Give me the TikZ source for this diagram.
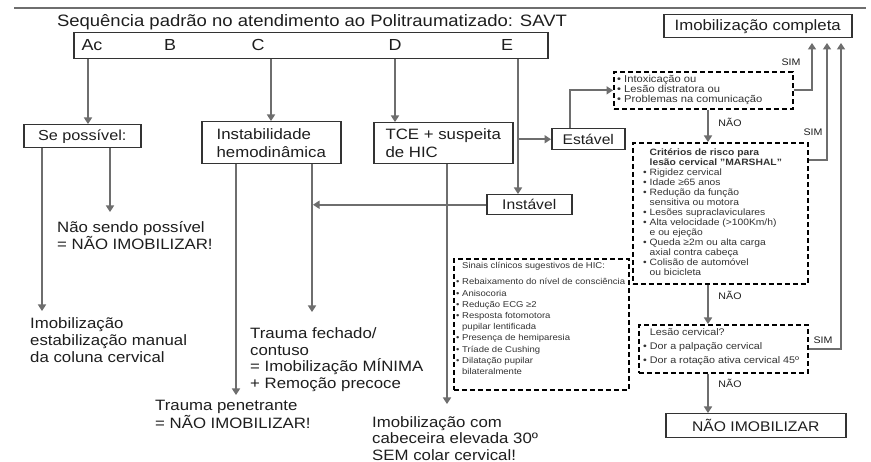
\documentclass[tikz,border=0pt]{standalone}
\usepackage{fontspec}
\setmainfont{Liberation Sans}[FakeStretch=1.12]
\usetikzlibrary{arrows.meta}
\definecolor{arrgray}{HTML}{6E6E6E}
\definecolor{boxgray}{HTML}{333333}
\definecolor{txt}{HTML}{1E1E1E}
\tikzset{
  solidbox/.style={draw=boxgray, line width=1.5pt, fill=white, inner sep=0pt, anchor=north west, text=txt},
  dashbox/.style={draw=black, line width=1.7pt, dash pattern=on 5pt off 3pt, inner sep=0pt, anchor=north west},
  conn/.style={draw=arrgray, line width=2.2pt},
  arr/.style={conn, -{Triangle[width=8pt,length=6.5pt]}},
  lbl/.style={font=\fontsize{9.5}{11}\selectfont, text=txt, inner sep=0pt},
  bodytext/.style={font=\fontsize{15}{16.5}\selectfont, align=left, inner sep=0pt, anchor=west, text=txt},
  letter/.style={font=\fontsize{16}{18}\selectfont, inner sep=0pt, text=txt},
  boxtext/.style={font=\fontsize{15}{18}\selectfont, align=left},
  smalltext/.style={align=left, inner sep=0pt, anchor=west, text=black!80}
}
\newcommand{\bl}{\textbullet\ }
\newcommand{\ind}{\phantom{\textbullet\ }}
\begin{document}
\begin{tikzpicture}[x=1pt, y=-1pt]
\useasboundingbox (0,0) rectangle (871,462);
\fill[white] (0,0) rectangle (871,462);

% top rule
\coordinate (r1) at (14,8);
\coordinate (r2) at (866,8);
\draw[draw=arrgray, line width=1.2pt] (r1) -- (r2);

% title
\node[font=\fontsize{16.5}{18}\selectfont, text=txt, inner sep=0pt] (title) at (312,22)
  {Sequência padrão no atendimento ao Politraumatizado: SAVT};

% ABCDE box
\node[solidbox, minimum width=474pt, minimum height=26pt] (abcde) at (73,32) {};
\node[letter] (lA) at (92,45) {Ac};
\node[letter] (lB) at (170,45) {B};
\node[letter] (lC) at (258,45) {C};
\node[letter] (lD) at (395,45) {D};
\node[letter] (lE) at (507,45) {E};

% solid boxes
\node[solidbox, minimum width=117pt, minimum height=23pt, font=\fontsize{14.5}{17}\selectfont] (sepos) at (23,124) {Se possível:};
\node[solidbox, boxtext, minimum width=139pt, minimum height=42pt] (instab) at (201,121) {Instabilidade\\hemodinâmica};
\node[solidbox, boxtext, minimum width=139pt, minimum height=41pt] (tce) at (373,122) {TCE + suspeita\\de HIC};
\node[solidbox, minimum width=73pt, minimum height=21pt, font=\fontsize{14}{16}\selectfont] (estavel) at (551,128) {Estável};
\node[solidbox, minimum width=85pt, minimum height=20pt, font=\fontsize{14}{16}\selectfont] (instavel) at (486,194) {Instável};
\node[solidbox, minimum width=188pt, minimum height=23pt, font=\fontsize{15}{17}\selectfont] (imobc) at (663,14) {Imobilização completa};
\node[solidbox, minimum width=180pt, minimum height=24pt, font=\fontsize{14}{16}\selectfont] (naoimob) at (665,413) {NÃO IMOBILIZAR};

% dashed boxes
\node[dashbox, minimum width=179pt, minimum height=37pt] (dash1) at (613,71) {};
\node[dashbox, minimum width=175pt, minimum height=141pt] (marshal) at (632,142) {};
\node[dashbox, minimum width=169pt, minimum height=48pt] (lesao) at (638,324) {};
\node[dashbox, minimum width=175pt, minimum height=131pt] (sinais) at (453,258) {};

% dashed box contents
\node[smalltext, font=\fontsize{10}{10}\selectfont] (t1) at (617,89.5)
  {\bl Intoxicação ou\\ \bl Lesão distratora ou\\ \bl Problemas na comunicação};
\node[smalltext, font=\fontsize{9.2}{10}\selectfont] (t2) at (643,212)
  {\ind\textbf{Critérios de risco para}\\
   \ind\textbf{lesão cervical "MARSHAL"}\\
   \bl Rigidez cervical\\
   \bl Idade ≥65 anos\\
   \bl Redução da função\\
   \ind sensitiva ou motora\\
   \bl Lesões supraclaviculares\\
   \bl Alta velocidade (>100Km/h)\\
   \ind e ou ejeção\\
   \bl Queda ≥2m ou alta carga\\
   \ind axial contra cabeça\\
   \bl Colisão de automóvel\\
   \ind ou bicicleta};
\node[smalltext, font=\fontsize{9.6}{14}\selectfont] (t3) at (643,347)
  {\ind Lesão cervical?\\ \bl Dor a palpação cervical\\ \bl Dor a rotação ativa cervical 45º};
\node[smalltext, font=\fontsize{8.5}{11.2}\selectfont] (t4) at (456,318.5)
  {\ind Sinais clínicos sugestivos de HIC:\\[5pt]
   \bl Rebaixamento do nível de consciência\\
   \bl Anisocoria\\
   \bl Redução ECG ≥2\\
   \bl Resposta fotomotora\\
   \ind pupilar lentificada\\
   \bl Presença de hemiparesia\\
   \bl Tríade de Cushing\\
   \bl Dilatação pupilar\\
   \ind bilateralmente};

% free texts
\node[bodytext, font=\fontsize{15}{15.5}\selectfont] (nsp) at (57,235.5) {Não sendo possível\\= NÃO IMOBILIZAR!};
\node[bodytext, font=\fontsize{15}{17}\selectfont] (imob1) at (30,340) {Imobilização\\estabilização manual\\da coluna cervical};
\node[bodytext] (tfech) at (250,359.5) {Trauma fechado/\\contuso\\= Imobilização MÍNIMA\\+ Remoção precoce};
\node[bodytext, font=\fontsize{15}{15.5}\selectfont] (tpen) at (155,414.5) {Trauma penetrante\\= NÃO IMOBILIZAR!};
\node[bodytext] (imobcom) at (372,438.5) {Imobilização com\\cabeceira elevada 30º\\SEM colar cervical!};

% column coordinates and free ends
\coordinate (xA) at (88,0);
\coordinate (xC) at (271,0);
\coordinate (xD) at (395,0);
\coordinate (xE) at (518,0);
\coordinate (xF) at (570,0);
\coordinate (xN) at (708,0);
\coordinate (e1) at (42,311);
\coordinate (e2) at (110,212);
\coordinate (e3) at (236,395);
\coordinate (e4) at (312,312);
\coordinate (e5) at (447,404);
\coordinate (c1) at (812,43);
\coordinate (c2) at (827,43);
\coordinate (c3) at (841,43);

% connectors from ABCDE
\draw[arr] (abcde.south -| xA) -- (sepos.north -| xA);
\draw[arr] (abcde.south -| xC) -- (instab.north -| xC);
\draw[arr] (abcde.south -| xD) -- (tce.north -| xD);
\draw[arr] (abcde.south -| xE) -- (instavel.north -| xE);
\draw[arr] (estavel.west -| xE) -- (estavel.west);

% branches
\draw[arr] (sepos.south -| e1) -- (e1);
\draw[arr] (sepos.south -| e2) -- (e2);
\draw[arr] (instab.south -| e3) -- (e3);
\draw[arr] (instab.south -| e4) -- (e4);
\draw[arr] (tce.south -| e5) -- (e5);
\draw[arr] (instavel.west) -- ([xshift=1pt]instavel.west -| e4);

% right-hand chain
\draw[arr] (estavel.north -| xF) |- (dash1.west);
\draw[arr] (dash1.east) -| (c1);
\draw[arr] (dash1.south -| xN) -- (marshal.north -| xN);
\draw[arr] ([yshift=-18pt]marshal.north east) -| (c2);
\draw[arr] (marshal.south -| xN) -- (lesao.north -| xN);
\draw[arr] (lesao.east) -| (c3);
\draw[arr] (lesao.south -| xN) -- (naoimob.north -| xN);

% labels
\node[lbl] (sim1) at (791,62) {SIM};
\node[lbl] (sim2) at (813,132) {SIM};
\node[lbl] (sim3) at (823,340) {SIM};
\node[lbl] (nao1) at (730,122) {NÃO};
\node[lbl] (nao2) at (730,295) {NÃO};
\node[lbl] (nao3) at (730,383) {NÃO};
\end{tikzpicture}
\end{document}
